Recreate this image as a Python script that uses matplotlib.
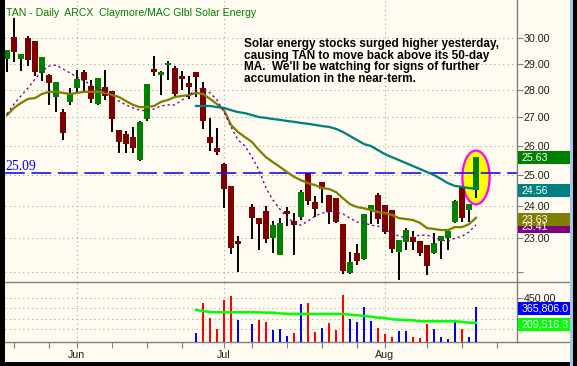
import matplotlib
matplotlib.use('Agg')
import matplotlib.pyplot as plt
from matplotlib.patches import Rectangle, Ellipse
from matplotlib.ticker import NullLocator, NullFormatter

plt.rcParams['font.family'] = ['Liberation Sans', 'DejaVu Sans']

# ---------------- data ----------------
title = "TAN - Daily  ARCX  Claymore/MAC Glbl Solar Energy"
note = ("Solar energy stocks surged higher yesterday,\n"
        "causing TAN to move back above its 50-day\n"
        "MA.  We'll be watching for signs of further\n"
        "accumulation in the near-term.")

# trading-day slots (slot 34 = Jul 4 holiday, left blank)
days = list(range(0, 34)) + list(range(35, 68))
opens = [29.18, 30.04, 29.18, 30.00, 29.88, 28.64, 28.56, 27.74, 27.19, 27.56,
         28.07, 28.67, 28.15, 27.48, 28.11, 27.96, 26.55, 26.41, 26.30, 25.51,
         26.94, 28.79, 28.56, 28.94, 28.83, 28.52, 28.26, 28.67, 28.07, 26.30,
         25.92, 25.37, 24.65, 22.91,
         23.96, 23.62, 23.84, 23.00, 22.49, 23.84, 23.53, 23.65, 25.08, 24.13,
         24.78, 24.35, 24.25, 23.43, 21.96, 22.55, 22.37, 23.87, 24.35, 24.03,
         23.87, 22.58, 22.88, 23.03, 22.91, 22.79, 22.55, 22.91, 23.00, 23.50,
         24.62, 23.87, 24.52]
highs = [29.53, 30.81, 29.37, 30.08, 29.88, 29.25, 28.60, 28.30, 27.30, 28.07,
         28.75, 28.75, 28.37, 28.45, 28.75, 27.96, 26.55, 26.51, 26.66, 26.87,
         28.22, 29.29, 28.71, 29.10, 28.90, 28.71, 28.52, 28.67, 28.30, 26.98,
         26.62, 25.41, 24.65, 23.06,
         24.06, 23.62, 24.00, 23.53, 23.62, 23.97, 23.78, 24.52, 25.08, 24.32,
         24.78, 24.35, 24.25, 23.43, 22.58, 22.82, 23.75, 24.03, 24.42, 24.03,
         23.87, 22.94, 23.31, 23.22, 22.91, 22.79, 23.15, 23.06, 23.25, 24.19,
         24.62, 24.06, 25.63]
lows = [28.67, 29.06, 28.71, 28.90, 28.52, 28.33, 27.45, 27.19, 26.20, 27.45,
        27.93, 27.93, 27.52, 27.45, 27.63, 26.48, 25.75, 25.75, 25.75, 25.48,
        26.87, 28.52, 27.81, 28.37, 27.74, 28.00, 27.67, 27.74, 26.59, 25.82,
        25.68, 23.93, 22.52, 21.99,
        22.97, 22.64, 22.85, 22.55, 22.49, 23.37, 22.49, 23.56, 24.03, 23.65,
        24.09, 23.43, 23.47, 21.93, 21.93, 22.19, 22.34, 23.43, 23.43, 23.12,
        22.55, 21.76, 22.64, 22.64, 22.46, 21.90, 22.52, 22.37, 22.64, 23.47,
        23.50, 23.50, 24.26]
closes = [29.53, 29.45, 29.37, 29.14, 28.67, 29.25, 28.26, 28.30, 26.44, 27.85,
          28.41, 28.37, 27.67, 28.45, 27.78, 26.94, 26.13, 26.06, 25.92, 26.84,
          28.22, 28.67, 28.67, 29.02, 27.85, 28.41, 28.11, 28.48, 26.87, 26.10,
          25.78, 24.55, 22.70, 22.82,
          23.62, 23.43, 22.97, 23.40, 23.47, 23.75, 23.40, 24.45, 24.16, 23.90,
          24.55, 23.81, 23.50, 22.02, 22.28, 22.30, 23.75, 24.03, 23.59, 23.19,
          22.67, 22.94, 23.25, 22.88, 22.55, 22.16, 22.85, 23.06, 23.22, 24.16,
          23.62, 24.06, 25.63]

ma_days = list(range(0, 68))
ma20 = [27.08, 27.34, 27.52, 27.67, 27.70, 27.85, 27.93, 27.93, 27.89, 27.85,
        27.89, 27.93, 27.93, 27.93, 27.89, 27.81, 27.74, 27.59, 27.45, 27.37,
        27.37, 27.41, 27.56, 27.63, 27.74, 27.78, 27.81, 27.89, 27.85, 27.67,
        27.48, 27.26, 26.73, 26.48, 26.30, 26.13, 25.85, 25.61, 25.44, 25.28,
        25.11, 24.95, 24.84, 24.74, 24.68, 24.58, 24.55, 24.45, 24.25, 24.06,
        23.97, 23.93, 23.87, 23.81, 23.78, 23.72, 23.62, 23.59, 23.56, 23.47,
        23.31, 23.28, 23.25, 23.25, 23.34, 23.34, 23.43, 23.63]
ma10 = [27.12, 27.48, 27.78, 28.07, 28.41, 28.71, 28.90, 28.94, 28.79, 28.64,
        28.48, 28.34, 28.19, 28.07, 27.93, 27.74, 27.59, 27.45, 27.34, 27.26,
        27.23, 27.30, 27.41, 27.45, 27.45, 27.63, 27.81, 28.00, 28.07, 27.89,
        27.63, 27.19, 26.66, 26.20, 25.99, 25.61, 25.18, 24.58, 24.19, 23.90,
        23.65, 23.47, 23.40, 23.53, 23.68, 23.78, 23.81, 23.81, 23.75, 23.62,
        23.50, 23.47, 23.40, 23.37, 23.28, 23.15, 23.06, 23.03, 23.06, 23.09,
        23.09, 23.03, 22.94, 22.91, 23.00, 23.06, 23.19, 23.41]
ma50_days = list(range(27, 68))
ma50 = [27.41, 27.41, 27.41, 27.37, 27.34, 27.26, 27.19, 27.15, 27.08, 27.01,
        26.98, 26.94, 26.91, 26.87, 26.84, 26.80, 26.77, 26.73, 26.69, 26.66,
        26.59, 26.48, 26.34, 26.20, 26.06, 25.99, 25.85, 25.71, 25.61, 25.51,
        25.41, 25.31, 25.21, 25.11, 25.01, 24.88, 24.74, 24.65, 24.62, 24.58,
        24.56]

vol_days = list(range(27, 34)) + list(range(35, 68))
volume = [112000, 405000, 259000, 148000, 432000, 474000, 236000,
          200000, 236000, 217000, 139000, 148000, 80000, 112000, 393000, 405000,
          116000, 155000, 204000, 139000, 480000, 243000, 217000, 366000, 227000,
          155000, 100000, 67000, 129000, 129000, 67000, 57000, 197000, 148000,
          67000, 51000, 217000, 148000, 67000, 365806]
vol_ma = [334000, 324000, 314000, 311000, 311000, 311000, 311000,
          311000, 311000, 308000, 308000, 301000, 295000, 295000, 295000, 295000,
          295000, 295000, 295000, 295000, 295000, 288000, 282000, 275000, 269000,
          259000, 256000, 243000, 239000, 236000, 233000, 224000, 224000, 224000,
          224000, 224000, 224000, 217000, 210000, 209516.3]

ref_level = 25.09
price_ticks = [22, 23, 24, 25, 26, 27, 28, 29, 30]
vol_ticks = [150000, 250000, 350000, 450000]
vol_tick_labels = ['', '', '', '450.00']
month_pos = [10, 31, 54]
month_labels = ['Jun', 'Jul', 'Aug']
week_pos = [1, 6, 15, 20, 25, 35, 40, 45, 50, 60, 65, 70]

# ---------------- layout ----------------
W, H = 577, 366
BG = '#fffbf0'
GRID = '#a8a8a8'
AXC = '#808080'
fig = plt.figure(figsize=(W / 100, H / 100), dpi=100)
fig.patch.set_facecolor(BG)

x_lo, x_hi = -2 / 7, 510 / 7
ax = fig.add_axes([5 / W, 1 - 282 / H, 512 / W, 282 / H])
axv = fig.add_axes([5 / W, 1 - 342 / H, 512 / W, 60 / H])
for a in (ax, axv):
    a.set_facecolor(BG)
    a.set_xlim(x_lo, x_hi)
    a.set_axisbelow(True)

# price panel
ax.set_yscale('log')
ax.set_ylim(21.70, 31.55)
ax.yaxis.tick_right()
ax.set_yticks(price_ticks)
ax.set_yticklabels(['' if v == 22 else f'{v:.2f}' for v in price_ticks])
ax.yaxis.set_minor_locator(NullLocator())
ax.yaxis.set_minor_formatter(NullFormatter())
ax.tick_params(axis='y', direction='out', length=4, width=0.8, color=AXC,
               pad=1, labelsize=7.7, labelcolor='#202020')
ax.set_xticks(month_pos)
ax.tick_params(axis='x', length=0, labelbottom=False)
ax.grid(True, ls=(0, (1, 3)), color=GRID, lw=0.8)
for s in ('top', 'left', 'bottom'):
    ax.spines[s].set_visible(False)
ax.spines['right'].set_color(AXC)
ax.spines['right'].set_linewidth(1)

# candles
for d, o, h, l, c in zip(days, opens, highs, lows, closes):
    col = '#008000' if c >= o else '#800000'
    ax.vlines(d, l, h, color='black', lw=1.4, zorder=4)
    ax.bar(d, max(abs(c - o), 0.02), bottom=min(o, c), width=0.72,
           color=col, linewidth=0, zorder=5)

# highlight ellipse on the last candle
hi_last, lo_last = highs[-1], lows[-1]
ax.add_patch(Ellipse((days[-1], (hi_last + lo_last) / 2), width=3.9,
                     height=(hi_last - lo_last) * 1.3, facecolor='#ffff00',
                     edgecolor='#ff00ff', lw=1.6, zorder=2))

ax.axhline(ref_level, color='#0000ff', lw=1.1, dashes=(13, 4.3), zorder=5.5)
ax.text(x_lo + 0.1, ref_level, f'{ref_level:.2f}', color='#0000ff',
        family=['Liberation Serif', 'DejaVu Serif'], fontsize=9.8,
        va='bottom', ha='left', zorder=7)

ax.plot(ma_days, ma20, color='#808000', lw=1.65, zorder=6)
ax.plot(ma50_days, ma50, color='#008080', lw=1.65, zorder=6)
ax.plot(ma_days, ma10, color='#800080', lw=1.0, dashes=(1.6, 2.2), zorder=6)

# volume panel
vcols = []
prev = closes[days.index(vol_days[0]) - 1]
for d in vol_days:
    c = closes[days.index(d)]
    vcols.append('#0000ff' if c >= prev else '#ff0000')
    prev = c
axv.bar(vol_days, volume, width=0.42, color=vcols, linewidth=0, zorder=3)
axv.plot(vol_days, vol_ma, color='#00ff00', lw=1.8, zorder=4)
axv.set_ylim(21500, 607000)
axv.yaxis.tick_right()
axv.set_yticks(vol_ticks)
axv.set_yticklabels(vol_tick_labels)
axv.tick_params(axis='y', direction='out', length=4, width=0.8, color=AXC,
                pad=1, labelsize=7.7, labelcolor='#202020')
axv.set_xticks(month_pos)
axv.set_xticklabels(month_labels)
axv.set_xticks(week_pos, minor=True)
axv.tick_params(axis='x', which='both', direction='out', length=4, width=0.8,
                color=AXC, pad=2, labelsize=7.7, labelcolor='#202020')
axv.grid(True, which='major', ls=(0, (1, 3)), color=GRID, lw=0.8)
axv.spines['left'].set_visible(False)
for s in ('top', 'right', 'bottom'):
    axv.spines[s].set_color(AXC)
    axv.spines[s].set_linewidth(1)

# texts
fig.text(6 / W, 1 - 12.5 / H, title, color='#008000', fontsize=7.6, va='center',
         ha='left')
fig.text(244 / W, 1 - 38.5 / H, note, fontsize=8.5, fontweight='bold',
         va='top', ha='left', linespacing=0.93, color='black')

# overlay: value boxes and frame
ov = fig.add_axes([0, 0, 1, 1], zorder=20)
ov.set_xlim(0, W)
ov.set_ylim(H, 0)
ov.axis('off')
ov.patch.set_alpha(0)


def px_y(axis, v):
    return H - axis.transData.transform((0, v))[1]


def value_box(yc, text, color):
    box = Rectangle((518, yc - 6.5), 52, 13, facecolor=color,
                    edgecolor='none', zorder=5)
    ov.add_patch(box)
    t = ov.text(522, yc + 0.3, text, color='white', fontsize=7.7, va='center',
                ha='left', zorder=6)
    t.set_clip_path(box)


value_box(px_y(ax, closes[-1]) + 1.2, f'{closes[-1]:.2f}', '#008000')
value_box(px_y(ax, ma50[-1]) + 1.5, f'{ma50[-1]:.2f}', '#008080')
value_box(px_y(ax, ma10[-1]) + 1.5, f'{ma10[-1]:.2f}', '#800080')
value_box(px_y(ax, ma20[-1]) + 1.5, f'{ma20[-1]:.2f}', '#808000')
value_box(px_y(axv, volume[-1]) + 1.8, f'{volume[-1]:,.1f}', '#0000ff')
value_box(px_y(axv, vol_ma[-1]) + 1.8, f'{vol_ma[-1]:,.1f}', '#00ff00')

ov.plot([517, 570], [282, 282], color=AXC, lw=1, zorder=7)
ov.plot([517, 570], [342, 342], color=AXC, lw=1, zorder=7)
ov.add_patch(Rectangle((0, 0), 4.5, H, facecolor='black', zorder=10))
ov.add_patch(Rectangle((0, 362), W, 4, facecolor='black', zorder=10))
ov.add_patch(Rectangle((570, 0), 3, H, facecolor='#a8c4e8', zorder=10))
ov.add_patch(Rectangle((573, 0), 4, H, facecolor='black', zorder=10))

fig.savefig('out.png', dpi=100, facecolor=BG)
